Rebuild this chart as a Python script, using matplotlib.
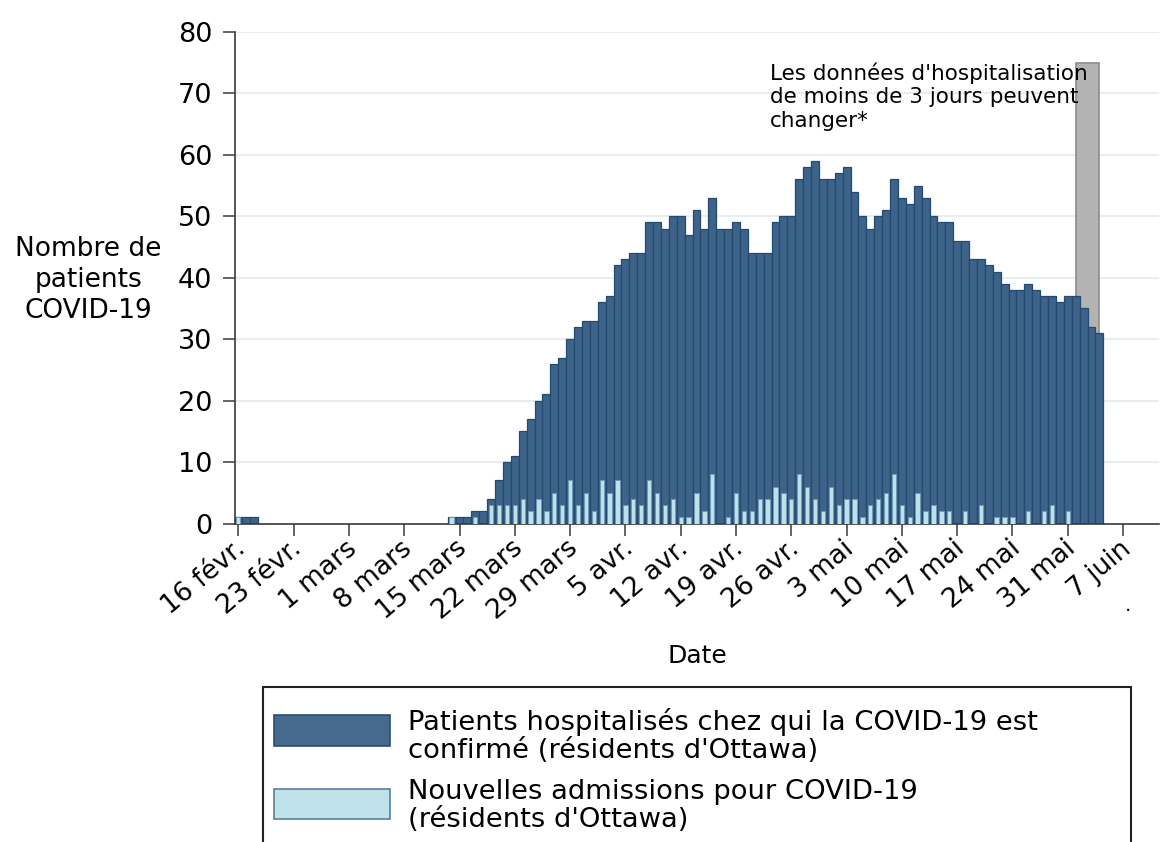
import numpy as np
import pandas as pd
import matplotlib
matplotlib.use('Agg')
import matplotlib.pyplot as plt
import matplotlib.dates as mdates
from matplotlib.transforms import ScaledTranslation
from matplotlib.patches import Rectangle

plt.rcParams['font.family'] = ['DejaVu Sans']

# ---------------- data ----------------
start_date = '2020-02-16'
end_date = '2020-06-04'

hosp_feb = [1, 1, 1, 0, 0, 0, 0, 0, 0, 0, 0, 0, 0, 0]
hosp_mar = [0] * 13 + [1, 1, 1, 2, 2, 4, 7, 10, 11, 15, 17, 20, 21, 26, 27, 30, 32, 33]
hosp_apr = [33, 36, 37, 42, 43, 44, 44, 49, 49, 48,
            50, 50, 47, 51, 48, 53, 48, 48, 49, 48,
            44, 44, 44, 49, 50, 50, 56, 58, 59, 56]
hosp_may = [56, 57, 58, 54, 50, 48, 50, 51, 56, 53,
            52, 55, 53, 50, 49, 49, 46, 46, 43, 43,
            42, 41, 39, 38, 38, 39, 38, 37, 37, 36, 37]
hosp_jun = [37, 35, 32, 31]

adm_feb = [1] + [0] * 13
adm_mar = [0] * 13 + [1, 0, 0, 1, 0, 3, 3, 3, 3, 4, 2, 4, 2, 5, 3, 7, 3, 5]
adm_apr = [2, 7, 5, 7, 3, 4, 3, 7, 5, 3,
           4, 1, 1, 5, 2, 8, 0, 1, 5, 2,
           2, 4, 4, 6, 5, 4, 8, 6, 4, 2]
adm_may = [6, 3, 4, 4, 1, 3, 4, 5, 8, 3,
           1, 5, 2, 3, 2, 2, 0, 2, 0, 3,
           0, 1, 1, 1, 0, 2, 0, 2, 3, 0, 2]
adm_jun = [0, 0, 0, 0]

hospitalized = hosp_feb + hosp_mar + hosp_apr + hosp_may + hosp_jun
new_admissions = adm_feb + adm_mar + adm_apr + adm_may + adm_jun

tick_dates = ['2020-02-16', '2020-02-23', '2020-03-01', '2020-03-08', '2020-03-15',
              '2020-03-22', '2020-03-29', '2020-04-05', '2020-04-12', '2020-04-19',
              '2020-04-26', '2020-05-03', '2020-05-10', '2020-05-17', '2020-05-24',
              '2020-05-31', '2020-06-07']
tick_labels = ['16 févr.', '23 févr.', '1 mars', '8 mars', '15 mars', '22 mars',
               '29 mars', '5 avr.', '12 avr.', '19 avr.', '26 avr.', '3 mai',
               '10 mai', '17 mai', '24 mai', '31 mai', '7 juin']
y_ticks = [0, 10, 20, 30, 40, 50, 60, 70, 80]

shade_start = '2020-06-01'
shade_days = 3
shade_height = 75

note_text = "Les données d'hospitalisation\nde moins de 3 jours peuvent\nchanger*"
ylabel_text = "Nombre de\npatients\nCOVID-19"
xlabel_text = "Date"
legend_labels = ["Patients hospitalisés chez qui la COVID-19 est\nconfirmé (résidents d'Ottawa)",
                 "Nouvelles admissions pour COVID-19\n(résidents d'Ottawa)"]

# ---------------- colours ----------------
dark_fc, dark_ec = '#3d6388', '#234a70'
light_fc, light_ec = '#bde0ea', '#6e9ab6'
shade_fc, shade_ec = '#b3b3b3', '#8c8c8c'
axis_col = '#3a3a3a'
text_col = '#000000'

# ---------------- figure ----------------
W, H = 1172, 842
fig = plt.figure(figsize=(W / 100, H / 100), dpi=100)
ax = fig.add_axes([235 / W, 1 - 523.5 / H, (1159 - 235) / W, (523.5 - 32) / H])

dates = pd.date_range(start_date, end_date, freq='D')
x = mdates.date2num(dates)
hosp = np.array(hospitalized)
adm = np.array(new_admissions)
x0 = mdates.date2num(pd.Timestamp(start_date))

ax.bar(mdates.date2num(pd.Timestamp(shade_start)), shade_height, width=shade_days,
       align='edge', color=shade_fc, edgecolor=shade_ec, linewidth=1.2, zorder=1.5)
m = hosp > 0
ax.bar(x[m], hosp[m], width=1.0, color=dark_fc, edgecolor=dark_ec, linewidth=0.9, zorder=2)
m2 = adm > 0
ax.bar(x[m2], adm[m2], width=0.55, color=light_fc, edgecolor=light_ec, linewidth=0.7, zorder=3)

ax.set_xlim(x0 - 0.42, x0 + 116.55)
ax.set_ylim(0, 80)
ax.set_yticks(y_ticks)
ax.set_yticklabels([str(v) for v in y_ticks])
ax.set_xticks(mdates.date2num(pd.to_datetime(tick_dates)))
ax.set_xticklabels(tick_labels, rotation=40, ha='right', va='top', rotation_mode='anchor')

ax.set_axisbelow(True)
ax.yaxis.grid(True, color='#e6eef2', linewidth=1.5, zorder=0)
ax.xaxis.grid(False)
for s in ['top', 'right']:
    ax.spines[s].set_visible(False)
for s in ['left', 'bottom']:
    ax.spines[s].set_color(axis_col)
    ax.spines[s].set_linewidth(1.2)

ax.tick_params(axis='y', length=9, width=1.1, pad=7.5, labelsize=19.5, color=axis_col, labelcolor=text_col)
ax.tick_params(axis='x', length=8.6, width=1.1, pad=0, labelsize=19, color=axis_col, labelcolor=text_col)
for lab in ax.get_xticklabels():
    lab.set_transform(lab.get_transform() + ScaledTranslation(-4 / 100, 0, fig.dpi_scale_trans))

ax.text(x0 + 67.3, 75.1, note_text, fontsize=15.5, ha='left', va='top', linespacing=1.22,
        color=text_col, zorder=4)

fig.text(88 / W, 1 - 236.5 / H, ylabel_text, ha='center', va='top', fontsize=19,
         linespacing=1.234, multialignment='center', color=text_col)
fig.text(697 / W, 1 - 644 / H, xlabel_text, ha='center', va='top', fontsize=18, color=text_col)
fig.text(1127.7 / W, 1 - 611 / H, '.', ha='center', va='baseline', fontsize=14, color=text_col)

# legend (box runs off the bottom of the figure, as in the reference)
fig.add_artist(Rectangle((263 / W, -0.05), (1131 - 263) / W, (1 - 687 / H) + 0.05,
                         transform=fig.transFigure, fill=False, edgecolor='#222222', linewidth=1.5))
fig.add_artist(Rectangle((274 / W, 1 - 746 / H), 116 / W, 31 / H, transform=fig.transFigure,
                         facecolor='#466b8e', edgecolor='#2c4f71', linewidth=1.2))
fig.add_artist(Rectangle((274 / W, 1 - 819 / H), 116 / W, 30 / H, transform=fig.transFigure,
                         facecolor='#bfe1ea', edgecolor='#5a809d', linewidth=1.2))
fig.text(408.5 / W, 1 - 707.5 / H, legend_labels[0], ha='left', va='top', fontsize=19.7,
         linespacing=1.10, color=text_col)
fig.text(408.5 / W, 1 - 779.3 / H, legend_labels[1], ha='left', va='top', fontsize=19.7,
         linespacing=1.10, color=text_col)

fig.savefig('out.png', dpi=100, facecolor='white')
